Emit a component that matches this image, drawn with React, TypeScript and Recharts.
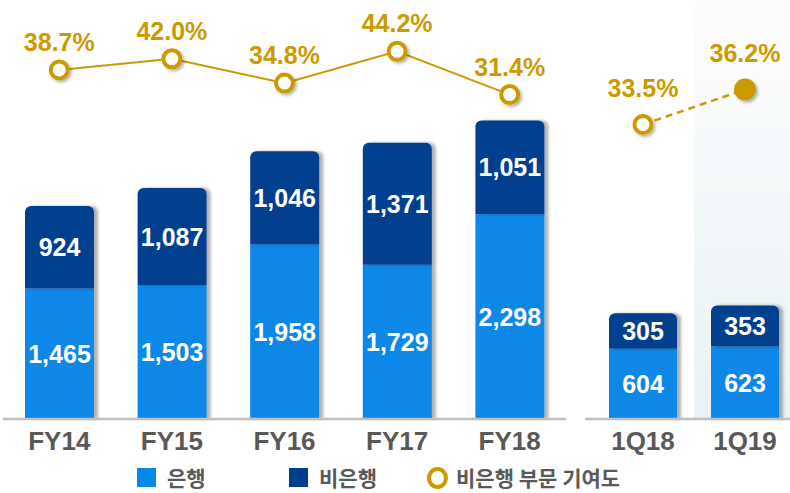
import { ComposedChart, Bar, Line, XAxis, YAxis, LabelList, ReferenceArea, Rectangle } from 'recharts';

const fyCategories = ['FY14', 'FY15', 'FY16', 'FY17', 'FY18'];
const fyBank = [1465, 1503, 1958, 1729, 2298];
const fyNonBank = [924, 1087, 1046, 1371, 1051];
const fyShare = [38.7, 42.0, 34.8, 44.2, 31.4];

const qCategories = ['1Q18', '1Q19'];
const qBank = [604, 623];
const qNonBank = [305, 353];
const qShare = [33.5, 36.2];

const legendLabels = ['은행', '비은행', '비은행 부문 기여도'];

const LIGHT = '#0787E8';
const DARK = '#003F8F';
const GOLD = '#CC9A00';
const GREY = '#595959';
const LATIN = "'Liberation Sans', Arial, sans-serif";
const KOREAN = "'Noto Sans CJK KR', 'Liberation Sans', sans-serif";

const fyData = fyCategories.map((name, i) => ({
  name,
  bank: fyBank[i],
  nonBank: fyNonBank[i],
  share: fyShare[i]
}));

const qData = qCategories.map((name, i) => ({
  name,
  bank: qBank[i],
  nonBank: qNonBank[i],
  share: qShare[i]
}));

const ShadowBar = (props: any) => <Rectangle {...props} filter="url(#barShadow)" />;

const barValue = (props: any) => {
  const vb = props.viewBox || {};
  const cx = vb.x + vb.width / 2;
  const cy = vb.y + vb.height / 2;
  return (
    <text
      x={cx}
      y={cy}
      textAnchor="middle"
      dominantBaseline="central"
      fill="#fff"
      fontSize={25}
      fontWeight="bold"
      fontFamily={LATIN}
    >
      {Number(props.value).toLocaleString('en-US')}
    </text>
  );
};

const pctLabel = (offset: number) => (props: any) => {
  const vb = props.viewBox || {};
  const cx = props.x ?? vb.x + (vb.width || 0) / 2;
  const cy = props.y ?? vb.y + (vb.height || 0) / 2;
  return (
    <text
      x={cx}
      y={cy - offset}
      textAnchor="middle"
      dominantBaseline="central"
      fill={GOLD}
      fontSize={25}
      fontWeight="bold"
      fontFamily={LATIN}
    >
      {`${Number(props.value).toFixed(1)}%`}
    </text>
  );
};

const ringDot = (props: any) => (
  <circle
    key={`ring-${props.index}`}
    cx={props.cx}
    cy={props.cy}
    r={8.5}
    fill="#fff"
    stroke={GOLD}
    strokeWidth={4}
    filter="url(#dotShadow)"
  />
);

const quarterDot = (props: any) =>
  props.index === 1 ? (
    <circle
      key={`q-${props.index}`}
      cx={props.cx}
      cy={props.cy}
      r={11}
      fill={GOLD}
      filter="url(#dotShadow)"
    />
  ) : (
    ringDot(props)
  );

const Defs = () => (
  <defs>
    <filter id="barShadow" x="-10%" y="-10%" width="130%" height="120%">
      <feDropShadow dx={4} dy={0} stdDeviation={1.5} floodColor="#000" floodOpacity={0.3} />
    </filter>
    <filter id="dotShadow" x="-50%" y="-50%" width="200%" height="200%">
      <feDropShadow dx={2} dy={2} stdDeviation={1.5} floodColor="#000" floodOpacity={0.3} />
    </filter>
    <linearGradient id="qShade" x1="0" y1="0" x2="0" y2="1">
      <stop offset="0%" stopColor="#fdfdfe" />
      <stop offset="100%" stopColor="#e9f2f4" />
    </linearGradient>
  </defs>
);

const tickStyle = { fill: GREY, fontSize: 26, fontWeight: 'bold', fontFamily: LATIN };

export default function App() {
  return (
    <div
      style={{
        position: 'fixed',
        left: 0,
        top: 0,
        width: 790,
        height: 493,
        background: '#fff',
        overflow: 'hidden'
      }}
    >
      <div style={{ position: 'absolute', left: 3, top: 0 }}>
        <ComposedChart
          width={563}
          height={460}
          data={fyData}
          margin={{ top: 0, right: 0, bottom: 0, left: 0 }}
        >
          <Defs />
          <XAxis
            dataKey="name"
            height={41}
            axisLine={{ stroke: '#BFBFBF', strokeWidth: 2.5 }}
            tickLine={false}
            tickSize={0}
            tickMargin={13}
            tick={tickStyle}
            interval={0}
          />
          <YAxis yAxisId="amt" hide domain={[0, 4700]} />
          <YAxis yAxisId="pct" hide domain={[-64.6, 59.4]} />
          <Bar
            yAxisId="amt"
            dataKey="bank"
            stackId="a"
            fill={LIGHT}
            barSize={69}
            shape={ShadowBar}
            isAnimationActive={false}
          >
            <LabelList dataKey="bank" content={barValue} />
          </Bar>
          <Bar
            yAxisId="amt"
            dataKey="nonBank"
            stackId="a"
            fill={DARK}
            barSize={69}
            radius={[6, 6, 0, 0]}
            shape={ShadowBar}
            isAnimationActive={false}
          >
            <LabelList dataKey="nonBank" content={barValue} />
          </Bar>
          <Line
            yAxisId="pct"
            dataKey="share"
            stroke={GOLD}
            strokeWidth={2}
            dot={ringDot}
            activeDot={false}
            isAnimationActive={false}
          >
            <LabelList dataKey="share" content={pctLabel(28)} />
          </Line>
        </ComposedChart>
      </div>

      <div style={{ position: 'absolute', left: 585, top: 0 }}>
        <ComposedChart
          width={211}
          height={460}
          data={qData}
          margin={{ top: 0, right: 0, bottom: 0, left: 0 }}
        >
          <Defs />
          <ReferenceArea
            yAxisId="amt"
            x1="1Q19"
            x2="1Q19"
            fill="url(#qShade)"
            fillOpacity={1}
            stroke="none"
          />
          <XAxis
            dataKey="name"
            height={41}
            padding={{ left: 7, right: 0 }}
            axisLine={{ stroke: '#BFBFBF', strokeWidth: 2.5 }}
            tickLine={false}
            tickSize={0}
            tickMargin={13}
            tick={tickStyle}
            interval={0}
          />
          <YAxis yAxisId="amt" hide domain={[0, 3600]} />
          <YAxis yAxisId="pct" hide domain={[10.8, 43.1]} />
          <Bar
            yAxisId="amt"
            dataKey="bank"
            stackId="q"
            fill={LIGHT}
            barSize={68}
            shape={ShadowBar}
            isAnimationActive={false}
          >
            <LabelList dataKey="bank" content={barValue} />
          </Bar>
          <Bar
            yAxisId="amt"
            dataKey="nonBank"
            stackId="q"
            fill={DARK}
            barSize={68}
            radius={[6, 6, 0, 0]}
            shape={ShadowBar}
            isAnimationActive={false}
          >
            <LabelList dataKey="nonBank" content={barValue} />
          </Bar>
          <Line
            yAxisId="pct"
            dataKey="share"
            stroke={GOLD}
            strokeWidth={2.5}
            strokeDasharray="7 5"
            dot={quarterDot}
            activeDot={false}
            isAnimationActive={false}
          >
            <LabelList dataKey="share" content={pctLabel(37)} />
          </Line>
        </ComposedChart>
      </div>

      <div
        style={{
          position: 'absolute',
          top: 466,
          left: 0,
          width: 790,
          height: 23,
          fontFamily: KOREAN,
          fontWeight: 'bold',
          fontSize: 21,
          lineHeight: '23px',
          color: GREY
        }}
      >
        <div style={{ position: 'absolute', left: 137, top: 2, width: 19, height: 19, background: LIGHT }} />
        <div style={{ position: 'absolute', left: 167, top: 0, whiteSpace: 'nowrap' }}>
          {legendLabels[0]}
        </div>
        <div style={{ position: 'absolute', left: 289, top: 2, width: 19, height: 19, background: DARK }} />
        <div style={{ position: 'absolute', left: 319, top: 0, whiteSpace: 'nowrap' }}>
          {legendLabels[1]}
        </div>
        <div
          style={{
            position: 'absolute',
            left: 427,
            top: 1,
            width: 13,
            height: 14,
            borderRadius: '50%',
            border: `4px solid ${GOLD}`
          }}
        />
        <div style={{ position: 'absolute', left: 456, top: 0, whiteSpace: 'nowrap' }}>
          {legendLabels[2]}
        </div>
      </div>
    </div>
  );
}
